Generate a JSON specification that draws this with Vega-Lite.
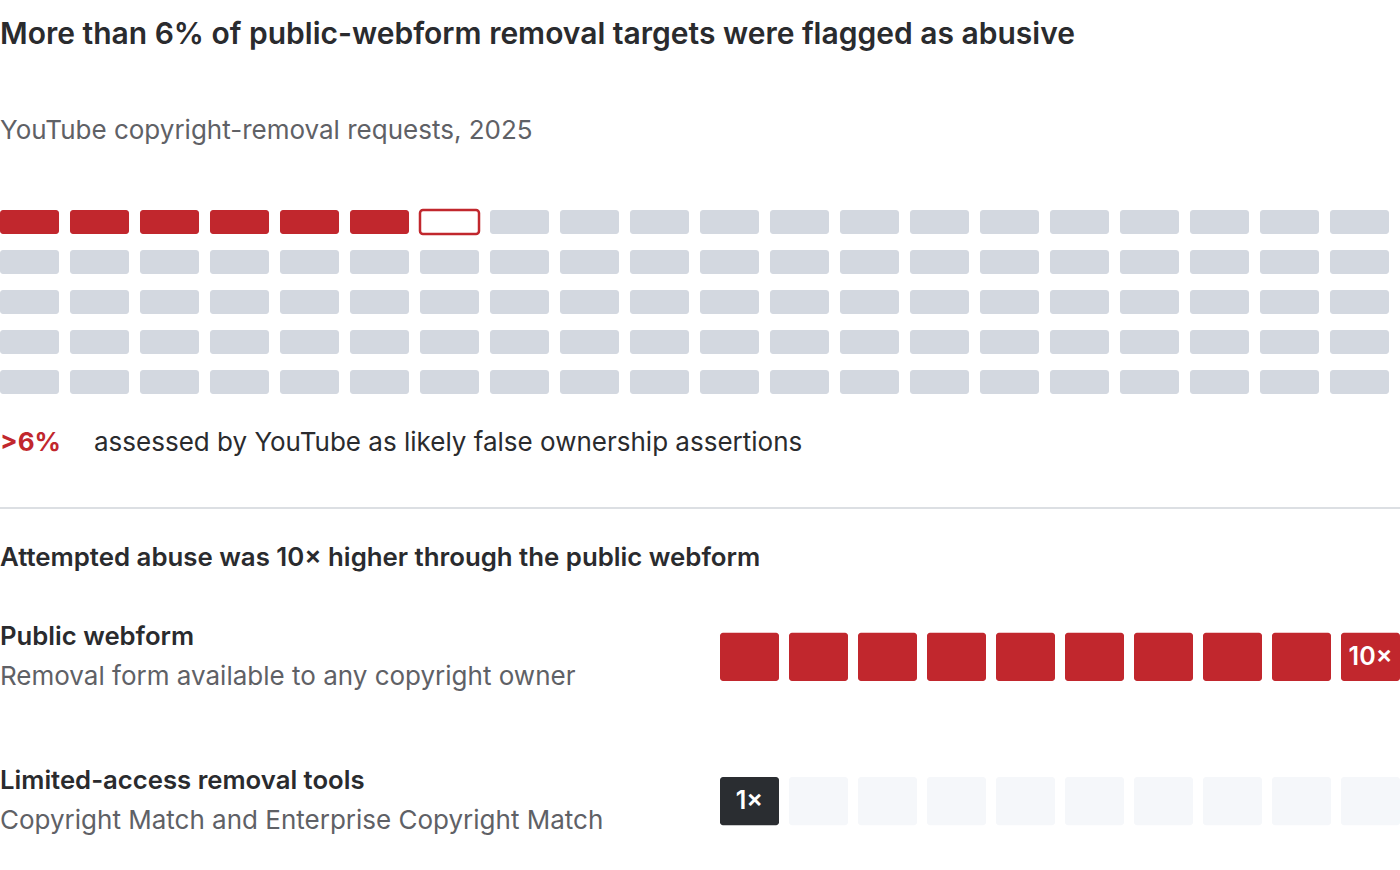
{
  "$schema": "https://vega.github.io/schema/vega-lite/v6.json",
  "padding": {"left": -1, "top": 20, "right": 0, "bottom": 0},
  "background": "white",
  "config": {"view": {"stroke": null}, "font": "Inter", "concat": {"spacing": 36}},
  "resolve": {"scale": {"fill": "independent"}},
  "title": {
    "text": "More than 6% of public-webform removal targets were flagged as abusive",
    "subtitle": "YouTube copyright-removal requests, 2025",
    "anchor": "start", "frame": "group",
    "font": "Inter", "fontSize": 30, "fontWeight": 600, "color": "#2a2b2e",
    "subtitleFont": "Inter", "subtitleFontSize": 26, "subtitleFontWeight": 400, "subtitleColor": "#5f6166",
    "subtitlePadding": 67.5, "offset": 65
  },
  "datasets": {
    "cells": [
      {"col":0,"row":0,"status":"abusive"},{"col":1,"row":0,"status":"abusive"},{"col":2,"row":0,"status":"abusive"},{"col":3,"row":0,"status":"abusive"},{"col":4,"row":0,"status":"abusive"},{"col":5,"row":0,"status":"abusive"},{"col":6,"row":0,"status":"partial"},{"col":7,"row":0,"status":"other"},{"col":8,"row":0,"status":"other"},{"col":9,"row":0,"status":"other"},{"col":10,"row":0,"status":"other"},{"col":11,"row":0,"status":"other"},{"col":12,"row":0,"status":"other"},{"col":13,"row":0,"status":"other"},{"col":14,"row":0,"status":"other"},{"col":15,"row":0,"status":"other"},{"col":16,"row":0,"status":"other"},{"col":17,"row":0,"status":"other"},{"col":18,"row":0,"status":"other"},{"col":19,"row":0,"status":"other"},
      {"col":0,"row":1,"status":"other"},{"col":1,"row":1,"status":"other"},{"col":2,"row":1,"status":"other"},{"col":3,"row":1,"status":"other"},{"col":4,"row":1,"status":"other"},{"col":5,"row":1,"status":"other"},{"col":6,"row":1,"status":"other"},{"col":7,"row":1,"status":"other"},{"col":8,"row":1,"status":"other"},{"col":9,"row":1,"status":"other"},{"col":10,"row":1,"status":"other"},{"col":11,"row":1,"status":"other"},{"col":12,"row":1,"status":"other"},{"col":13,"row":1,"status":"other"},{"col":14,"row":1,"status":"other"},{"col":15,"row":1,"status":"other"},{"col":16,"row":1,"status":"other"},{"col":17,"row":1,"status":"other"},{"col":18,"row":1,"status":"other"},{"col":19,"row":1,"status":"other"},
      {"col":0,"row":2,"status":"other"},{"col":1,"row":2,"status":"other"},{"col":2,"row":2,"status":"other"},{"col":3,"row":2,"status":"other"},{"col":4,"row":2,"status":"other"},{"col":5,"row":2,"status":"other"},{"col":6,"row":2,"status":"other"},{"col":7,"row":2,"status":"other"},{"col":8,"row":2,"status":"other"},{"col":9,"row":2,"status":"other"},{"col":10,"row":2,"status":"other"},{"col":11,"row":2,"status":"other"},{"col":12,"row":2,"status":"other"},{"col":13,"row":2,"status":"other"},{"col":14,"row":2,"status":"other"},{"col":15,"row":2,"status":"other"},{"col":16,"row":2,"status":"other"},{"col":17,"row":2,"status":"other"},{"col":18,"row":2,"status":"other"},{"col":19,"row":2,"status":"other"},
      {"col":0,"row":3,"status":"other"},{"col":1,"row":3,"status":"other"},{"col":2,"row":3,"status":"other"},{"col":3,"row":3,"status":"other"},{"col":4,"row":3,"status":"other"},{"col":5,"row":3,"status":"other"},{"col":6,"row":3,"status":"other"},{"col":7,"row":3,"status":"other"},{"col":8,"row":3,"status":"other"},{"col":9,"row":3,"status":"other"},{"col":10,"row":3,"status":"other"},{"col":11,"row":3,"status":"other"},{"col":12,"row":3,"status":"other"},{"col":13,"row":3,"status":"other"},{"col":14,"row":3,"status":"other"},{"col":15,"row":3,"status":"other"},{"col":16,"row":3,"status":"other"},{"col":17,"row":3,"status":"other"},{"col":18,"row":3,"status":"other"},{"col":19,"row":3,"status":"other"},
      {"col":0,"row":4,"status":"other"},{"col":1,"row":4,"status":"other"},{"col":2,"row":4,"status":"other"},{"col":3,"row":4,"status":"other"},{"col":4,"row":4,"status":"other"},{"col":5,"row":4,"status":"other"},{"col":6,"row":4,"status":"other"},{"col":7,"row":4,"status":"other"},{"col":8,"row":4,"status":"other"},{"col":9,"row":4,"status":"other"},{"col":10,"row":4,"status":"other"},{"col":11,"row":4,"status":"other"},{"col":12,"row":4,"status":"other"},{"col":13,"row":4,"status":"other"},{"col":14,"row":4,"status":"other"},{"col":15,"row":4,"status":"other"},{"col":16,"row":4,"status":"other"},{"col":17,"row":4,"status":"other"},{"col":18,"row":4,"status":"other"},{"col":19,"row":4,"status":"other"}
    ],
    "note": [
      {"share": ">6%", "note": "assessed by YouTube as likely false ownership assertions"}
    ],
    "channels": [
      {"channel": "Public webform", "detail": "Removal form available to any copyright owner"},
      {"channel": "Limited-access removal tools", "detail": "Copyright Match and Enterprise Copyright Match"}
    ],
    "blocks": [
      {"channel":"Public webform","slot":1,"tone":"public","label":""},
      {"channel":"Public webform","slot":2,"tone":"public","label":""},
      {"channel":"Public webform","slot":3,"tone":"public","label":""},
      {"channel":"Public webform","slot":4,"tone":"public","label":""},
      {"channel":"Public webform","slot":5,"tone":"public","label":""},
      {"channel":"Public webform","slot":6,"tone":"public","label":""},
      {"channel":"Public webform","slot":7,"tone":"public","label":""},
      {"channel":"Public webform","slot":8,"tone":"public","label":""},
      {"channel":"Public webform","slot":9,"tone":"public","label":""},
      {"channel":"Public webform","slot":10,"tone":"public","label":"10×"},
      {"channel":"Limited-access removal tools","slot":1,"tone":"limited","label":"1×"},
      {"channel":"Limited-access removal tools","slot":2,"tone":"empty","label":""},
      {"channel":"Limited-access removal tools","slot":3,"tone":"empty","label":""},
      {"channel":"Limited-access removal tools","slot":4,"tone":"empty","label":""},
      {"channel":"Limited-access removal tools","slot":5,"tone":"empty","label":""},
      {"channel":"Limited-access removal tools","slot":6,"tone":"empty","label":""},
      {"channel":"Limited-access removal tools","slot":7,"tone":"empty","label":""},
      {"channel":"Limited-access removal tools","slot":8,"tone":"empty","label":""},
      {"channel":"Limited-access removal tools","slot":9,"tone":"empty","label":""},
      {"channel":"Limited-access removal tools","slot":10,"tone":"empty","label":""}
    ]
  },
  "vconcat": [
    {
      "width": 1389, "height": 184,
      "data": {"name": "cells"},
      "encoding": {
        "x": {"field": "col", "type": "ordinal", "axis": null, "scale": {"paddingInner": 0.157, "paddingOuter": 0}},
        "y": {"field": "row", "type": "ordinal", "axis": null, "scale": {"paddingInner": 0.4, "paddingOuter": 0}}
      },
      "layer": [
        {
          "mark": {"type": "rect", "cornerRadius": 3},
          "encoding": {
            "fill": {"field": "status", "type": "nominal", "legend": null,
              "scale": {"domain": ["abusive", "partial", "other"], "range": ["#c1272d", "#ffffff", "#d3d8e0"]}}
          }
        },
        {
          "transform": [{"filter": "datum.status === 'partial'"}],
          "mark": {"type": "rect", "cornerRadius": 3, "fill": "#ffffff", "stroke": "#c1272d", "strokeWidth": 2.5}
        }
      ]
    },
    {
      "width": 1400, "height": 78,
      "data": {"name": "note"},
      "layer": [
        {
          "mark": {"type": "text", "align": "left", "baseline": "middle", "fontSize": 26, "fontWeight": 700, "color": "#c1272d", "dy": -26},
          "encoding": {"x": {"value": 0}, "text": {"field": "share"}}
        },
        {
          "mark": {"type": "text", "align": "left", "baseline": "middle", "fontSize": 26, "fontWeight": 400, "color": "#2a2b2e", "dy": -26, "dx": 94},
          "encoding": {"x": {"value": 0}, "text": {"field": "note"}}
        },
        {
          "mark": {"type": "rule", "color": "#dcdfe3", "strokeWidth": 2},
          "encoding": {"y": {"value": "height"}}
        }
      ]
    },
    {
      "title": {"text": "Attempted abuse was 10× higher through the public webform", "anchor": "start", "frame": "group",
        "font": "Inter", "fontSize": 25.8, "fontWeight": 600, "color": "#2a2b2e", "offset": 32},
      "spacing": 0,
      "resolve": {"scale": {"fill": "independent"}},
      "hconcat": [
        {
          "width": 720, "height": 250,
          "data": {"name": "channels"},
          "encoding": {
            "y": {"field": "channel", "type": "nominal", "axis": null,
              "scale": {"type": "band", "domain": ["Public webform", "Limited-access removal tools"], "paddingInner": 0.667, "paddingOuter": 0.2}}
          },
          "layer": [
            {
              "mark": {"type": "text", "align": "left", "baseline": "middle", "fontSize": 25.7, "fontWeight": 600, "color": "#2a2b2e", "dy": -20},
              "encoding": {"x": {"value": 0}, "text": {"field": "channel"}}
            },
            {
              "mark": {"type": "text", "align": "left", "baseline": "middle", "fontSize": 26, "fontWeight": 400, "color": "#5f6166", "dy": 20},
              "encoding": {"x": {"value": 0}, "text": {"field": "detail"}}
            }
          ]
        },
        {
          "width": 680, "height": 250,
          "data": {"name": "blocks"},
          "encoding": {
            "x": {"field": "slot", "type": "ordinal", "axis": null, "scale": {"paddingInner": 0.145, "paddingOuter": 0}},
            "y": {"field": "channel", "type": "nominal", "axis": null,
              "scale": {"type": "band", "domain": ["Public webform", "Limited-access removal tools"], "paddingInner": 0.667, "paddingOuter": 0.2}}
          },
          "layer": [
            {
              "mark": {"type": "rect", "cornerRadius": 3},
              "encoding": {
                "fill": {"field": "tone", "type": "nominal", "legend": null,
                  "scale": {"domain": ["public", "limited", "empty"], "range": ["#c1272d", "#2a2d31", "#f5f7fa"]}}
              }
            },
            {
              "mark": {"type": "text", "align": "center", "baseline": "middle", "fontSize": 25, "fontWeight": 600, "color": "#ffffff"},
              "encoding": {"text": {"field": "label"}}
            }
          ]
        }
      ]
    }
  ]
}
